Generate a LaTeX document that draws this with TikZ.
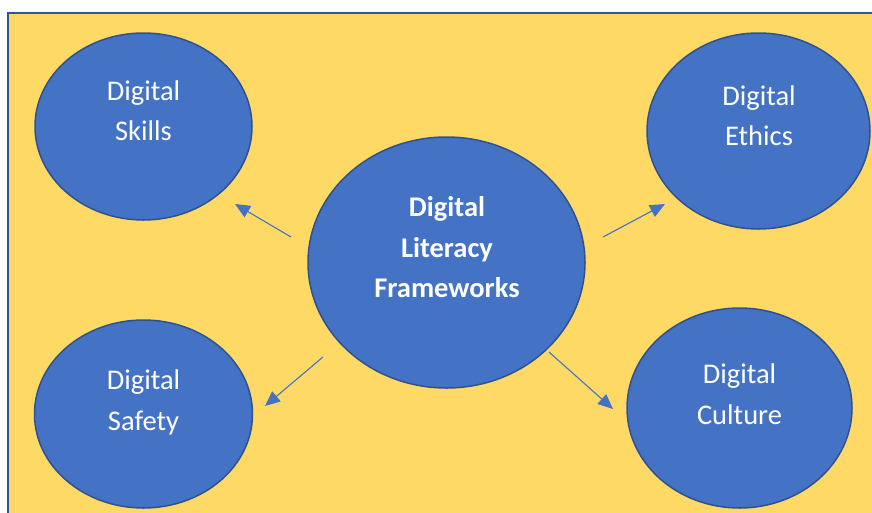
\documentclass[tikz,border=0pt]{standalone}
\usepackage{fontspec}
\setmainfont{Carlito}
\usetikzlibrary{shapes.geometric,arrows.meta}
\definecolor{bgyellow}{HTML}{FFD966}
\definecolor{frameblue}{HTML}{2F5597}
\definecolor{fillblue}{HTML}{4472C4}
\definecolor{edgeblue}{HTML}{2F528F}
\begin{document}
\begin{tikzpicture}[x=1pt,y=-1pt,
  bubble/.style={ellipse,draw=edgeblue,fill=fillblue,line width=1.5pt,inner sep=0pt},
  bubbletext/.style={text=white,align=center,anchor=base,inner sep=0pt,
    font=\fontsize{28.5}{40.5}\selectfont},
  link/.style={draw=fillblue,line width=1.1pt,-{Triangle[length=15pt,width=13pt]}}]
\useasboundingbox (0,0) rectangle (872,512);
\fill[white] (0,0) rectangle (872,512);
\filldraw[fill=bgyellow,draw=frameblue,line width=2pt] (8,12.5) rectangle (880,520);
% bubbles
\node[bubble,minimum width=217pt,minimum height=187pt] (skills) at (143.5,126.5) {};
\node[bubble,minimum width=223pt,minimum height=196pt] (ethics) at (758.5,131) {};
\node[bubble,minimum width=277pt,minimum height=251pt] (center) at (446.5,262.5) {};
\node[bubble,minimum width=218pt,minimum height=188pt] (safety) at (143.5,414) {};
\node[bubble,minimum width=225pt,minimum height=200pt] (culture) at (739.5,408) {};
% texts (base anchor = baseline of last line)
\node[bubbletext] (tskills) at (143.5,140.5) {Digital\\Skills};
\node[bubbletext] (tethics) at (759,145.5) {Digital\\Ethics};
\node[bubbletext,font=\fontsize{28.5}{40.5}\selectfont\bfseries] (tcenter) at (447,297.5) {Digital\\Literacy\\Frameworks};
\node[bubbletext] (tsafety) at (143.5,430) {Digital\\Safety};
\node[bubbletext] (tculture) at (739.5,424) {Digital\\Culture};
% arrow ends
\coordinate (s1) at (291,237); \coordinate (s2) at (235,204);
\coordinate (e1) at (603,237); \coordinate (e2) at (665,204);
\coordinate (f1) at (323,357); \coordinate (f2) at (265,406);
\coordinate (c1) at (549,352); \coordinate (c2) at (613,409);
\draw[link] (s1) -- (s2);
\draw[link] (e1) -- (e2);
\draw[link] (f1) -- (f2);
\draw[link] (c1) -- (c2);
\end{tikzpicture}
\end{document}
